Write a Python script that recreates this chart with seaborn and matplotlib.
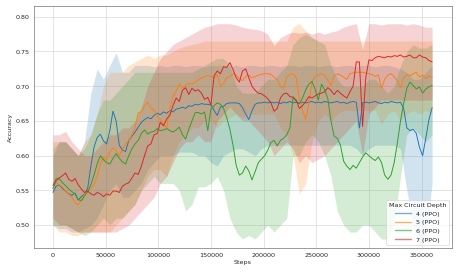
import numpy as np
import pandas as pd
import matplotlib
matplotlib.use("Agg")
import matplotlib.pyplot as plt
import seaborn as sns

sns.set_style("whitegrid", {"axes.edgecolor": "0.25"})

depths = ["4 (PPO)", "5 (PPO)", "6 (PPO)", "7 (PPO)"]
colors = ["#1f77b4", "#ff7f0e", "#2ca02c", "#d62728"]

# mean curves, one sample every 3000 steps
line_steps = np.arange(0, 360001, 3000)
band_steps = np.arange(0, 360001, 6000)

acc_4 = [0.547, 0.556, 0.558, 0.553, 0.549, 0.545, 0.543, 0.546, 0.536, 0.541,
         0.545, 0.553, 0.585, 0.612, 0.626, 0.631, 0.621, 0.617, 0.636, 0.664,
         0.650, 0.615, 0.608, 0.606, 0.622, 0.628, 0.634, 0.641, 0.648, 0.652,
         0.655, 0.653, 0.658, 0.661, 0.659, 0.663, 0.661, 0.665, 0.663, 0.667,
         0.668, 0.670, 0.668, 0.672, 0.671, 0.674, 0.673, 0.675, 0.674, 0.674,
         0.673, 0.665, 0.658, 0.670, 0.671, 0.675, 0.676, 0.676, 0.676, 0.675,
         0.669, 0.660, 0.652, 0.665, 0.674, 0.676, 0.676, 0.677, 0.676, 0.677,
         0.676, 0.677, 0.675, 0.677, 0.676, 0.678, 0.676, 0.677, 0.675, 0.677,
         0.676, 0.677, 0.678, 0.676, 0.677, 0.676, 0.678, 0.677, 0.676, 0.677,
         0.678, 0.676, 0.677, 0.675, 0.677, 0.678, 0.677, 0.640, 0.676, 0.677,
         0.676, 0.677, 0.678, 0.676, 0.675, 0.677, 0.676, 0.678, 0.677, 0.676,
         0.677, 0.668, 0.640, 0.636, 0.638, 0.632, 0.612, 0.600, 0.625, 0.652,
         0.669]
acc_5 = [0.553, 0.561, 0.558, 0.555, 0.549, 0.545, 0.540, 0.532, 0.529, 0.536,
         0.545, 0.550, 0.553, 0.558, 0.570, 0.588, 0.598, 0.593, 0.606, 0.611,
         0.607, 0.600, 0.610, 0.617, 0.622, 0.630, 0.640, 0.662, 0.663, 0.672,
         0.677, 0.668, 0.666, 0.656, 0.652, 0.645, 0.640, 0.668, 0.685, 0.693,
         0.703, 0.697, 0.702, 0.704, 0.703, 0.706, 0.709, 0.712, 0.714, 0.715,
         0.714, 0.712, 0.717, 0.700, 0.704, 0.712, 0.714, 0.718, 0.716, 0.711,
         0.708, 0.714, 0.716, 0.712, 0.714, 0.716, 0.717, 0.718, 0.718, 0.717,
         0.713, 0.709, 0.700, 0.697, 0.713, 0.717, 0.718, 0.712, 0.682, 0.665,
         0.652, 0.675, 0.707, 0.714, 0.716, 0.718, 0.716, 0.708, 0.701, 0.715,
         0.718, 0.716, 0.713, 0.710, 0.718, 0.719, 0.720, 0.720, 0.720, 0.719,
         0.718, 0.717, 0.714, 0.716, 0.697, 0.710, 0.716, 0.718, 0.714, 0.708,
         0.698, 0.712, 0.717, 0.715, 0.718, 0.720, 0.713, 0.716, 0.711, 0.715,
         0.713]
acc_6 = [0.553, 0.563, 0.567, 0.561, 0.557, 0.552, 0.548, 0.545, 0.537, 0.535,
         0.542, 0.548, 0.558, 0.572, 0.588, 0.600, 0.594, 0.590, 0.588, 0.596,
         0.603, 0.596, 0.591, 0.588, 0.600, 0.610, 0.617, 0.622, 0.632, 0.637,
         0.631, 0.634, 0.635, 0.639, 0.636, 0.637, 0.639, 0.636, 0.634, 0.637,
         0.641, 0.630, 0.624, 0.638, 0.650, 0.662, 0.662, 0.660, 0.663, 0.636,
         0.667, 0.672, 0.676, 0.674, 0.668, 0.655, 0.638, 0.615, 0.586, 0.572,
         0.575, 0.585, 0.578, 0.565, 0.577, 0.590, 0.595, 0.600, 0.608, 0.619,
         0.622, 0.614, 0.622, 0.625, 0.630, 0.640, 0.685, 0.678, 0.675, 0.683,
         0.695, 0.703, 0.707, 0.695, 0.680, 0.703, 0.695, 0.682, 0.650, 0.628,
         0.625, 0.615, 0.592, 0.585, 0.580, 0.586, 0.582, 0.590, 0.598, 0.604,
         0.600, 0.596, 0.593, 0.598, 0.590, 0.572, 0.566, 0.572, 0.590, 0.618,
         0.650, 0.675, 0.697, 0.706, 0.701, 0.696, 0.699, 0.690, 0.696, 0.699,
         0.701]
acc_7 = [0.557, 0.566, 0.568, 0.571, 0.575, 0.566, 0.563, 0.567, 0.558, 0.552,
         0.547, 0.549, 0.545, 0.543, 0.547, 0.545, 0.541, 0.545, 0.543, 0.549,
         0.549, 0.547, 0.556, 0.559, 0.561, 0.568, 0.575, 0.573, 0.585, 0.600,
         0.614, 0.617, 0.630, 0.632, 0.648, 0.643, 0.653, 0.658, 0.672, 0.683,
         0.678, 0.694, 0.698, 0.688, 0.697, 0.693, 0.695, 0.690, 0.681, 0.684,
         0.673, 0.715, 0.722, 0.718, 0.728, 0.727, 0.734, 0.724, 0.712, 0.706,
         0.722, 0.725, 0.712, 0.700, 0.694, 0.690, 0.689, 0.686, 0.682, 0.676,
         0.664, 0.668, 0.683, 0.689, 0.690, 0.685, 0.684, 0.680, 0.668, 0.672,
         0.678, 0.685, 0.683, 0.686, 0.689, 0.690, 0.692, 0.698, 0.694, 0.688,
         0.694, 0.690, 0.686, 0.683, 0.692, 0.700, 0.735, 0.735, 0.642, 0.712,
         0.738, 0.737, 0.741, 0.743, 0.742, 0.741, 0.743, 0.742, 0.744, 0.743,
         0.745, 0.742, 0.743, 0.745, 0.741, 0.741, 0.745, 0.742, 0.741, 0.737,
         0.735]

# spread across seeds, one sample every 6000 steps
hi_4 = [0.600, 0.620, 0.620, 0.610, 0.600, 0.620, 0.690, 0.725, 0.710, 0.730,
        0.748, 0.720, 0.720, 0.730, 0.730, 0.730, 0.728, 0.730, 0.728, 0.730,
        0.730, 0.728, 0.730, 0.730, 0.728, 0.730, 0.730, 0.730, 0.728, 0.730,
        0.728, 0.730, 0.730, 0.728, 0.730, 0.730, 0.728, 0.730, 0.730, 0.728,
        0.730, 0.730, 0.728, 0.730, 0.730, 0.728, 0.730, 0.730, 0.728, 0.730,
        0.730, 0.728, 0.730, 0.730, 0.728, 0.725, 0.720, 0.710, 0.710, 0.720,
        0.730]
lo_4 = [0.500, 0.495, 0.495, 0.490, 0.490, 0.495, 0.500, 0.510, 0.530, 0.550,
        0.560, 0.540, 0.540, 0.550, 0.560, 0.580, 0.590, 0.600, 0.600, 0.600,
        0.605, 0.605, 0.605, 0.600, 0.600, 0.590, 0.585, 0.600, 0.605, 0.610,
        0.610, 0.605, 0.600, 0.610, 0.615, 0.615, 0.615, 0.615, 0.615, 0.615,
        0.615, 0.615, 0.615, 0.615, 0.615, 0.615, 0.615, 0.615, 0.610, 0.600,
        0.610, 0.615, 0.615, 0.615, 0.615, 0.610, 0.550, 0.500, 0.470, 0.480,
        0.560]
hi_5 = [0.620, 0.620, 0.620, 0.610, 0.600, 0.620, 0.630, 0.660, 0.700, 0.720,
        0.720, 0.720, 0.730, 0.735, 0.740, 0.745, 0.740, 0.745, 0.745, 0.750,
        0.755, 0.758, 0.760, 0.762, 0.765, 0.765, 0.765, 0.765, 0.765, 0.765,
        0.765, 0.765, 0.765, 0.765, 0.765, 0.765, 0.765, 0.765, 0.785, 0.790,
        0.780, 0.770, 0.765, 0.765, 0.765, 0.765, 0.765, 0.765, 0.765, 0.765,
        0.765, 0.765, 0.765, 0.765, 0.765, 0.765, 0.765, 0.765, 0.765, 0.765,
        0.765]
lo_5 = [0.500, 0.490, 0.490, 0.485, 0.485, 0.490, 0.490, 0.490, 0.490, 0.490,
        0.500, 0.510, 0.520, 0.530, 0.550, 0.570, 0.580, 0.580, 0.570, 0.600,
        0.620, 0.630, 0.640, 0.640, 0.650, 0.650, 0.640, 0.650, 0.655, 0.660,
        0.655, 0.660, 0.660, 0.660, 0.660, 0.660, 0.640, 0.630, 0.600, 0.545,
        0.560, 0.620, 0.650, 0.660, 0.650, 0.660, 0.665, 0.665, 0.665, 0.665,
        0.665, 0.665, 0.645, 0.660, 0.665, 0.650, 0.660, 0.665, 0.660, 0.665,
        0.660]
hi_6 = [0.610, 0.620, 0.620, 0.610, 0.600, 0.610, 0.630, 0.660, 0.680, 0.680,
        0.690, 0.700, 0.710, 0.720, 0.720, 0.720, 0.720, 0.720, 0.720, 0.720,
        0.720, 0.720, 0.720, 0.725, 0.730, 0.735, 0.740, 0.740, 0.730, 0.700,
        0.690, 0.690, 0.690, 0.700, 0.710, 0.710, 0.720, 0.730, 0.760, 0.770,
        0.775, 0.770, 0.765, 0.760, 0.730, 0.710, 0.700, 0.700, 0.700, 0.700,
        0.710, 0.710, 0.700, 0.690, 0.700, 0.730, 0.750, 0.760, 0.755, 0.755,
        0.760]
lo_6 = [0.500, 0.500, 0.500, 0.495, 0.490, 0.485, 0.490, 0.500, 0.510, 0.500,
        0.510, 0.510, 0.520, 0.530, 0.550, 0.560, 0.570, 0.560, 0.560, 0.560,
        0.550, 0.520, 0.530, 0.555, 0.555, 0.560, 0.570, 0.550, 0.510, 0.490,
        0.480, 0.485, 0.480, 0.490, 0.500, 0.490, 0.500, 0.510, 0.600, 0.600,
        0.620, 0.630, 0.620, 0.600, 0.570, 0.520, 0.500, 0.490, 0.490, 0.500,
        0.500, 0.490, 0.480, 0.480, 0.500, 0.570, 0.630, 0.640, 0.630, 0.620,
        0.630]
hi_7 = [0.630, 0.630, 0.635, 0.620, 0.610, 0.600, 0.600, 0.610, 0.620, 0.630,
        0.630, 0.640, 0.640, 0.650, 0.670, 0.700, 0.720, 0.740, 0.750, 0.760,
        0.765, 0.770, 0.775, 0.780, 0.785, 0.787, 0.790, 0.790, 0.790, 0.788,
        0.785, 0.783, 0.782, 0.780, 0.775, 0.758, 0.770, 0.775, 0.778, 0.776,
        0.778, 0.775, 0.778, 0.775, 0.778, 0.780, 0.785, 0.788, 0.790, 0.753,
        0.790, 0.790, 0.788, 0.790, 0.790, 0.790, 0.788, 0.790, 0.788, 0.785,
        0.785]
lo_7 = [0.510, 0.500, 0.500, 0.495, 0.490, 0.490, 0.490, 0.490, 0.490, 0.490,
        0.490, 0.495, 0.500, 0.510, 0.520, 0.530, 0.540, 0.560, 0.570, 0.590,
        0.610, 0.620, 0.620, 0.630, 0.620, 0.620, 0.650, 0.660, 0.670, 0.660,
        0.650, 0.650, 0.640, 0.630, 0.620, 0.600, 0.610, 0.620, 0.610, 0.590,
        0.600, 0.590, 0.595, 0.600, 0.610, 0.620, 0.630, 0.640, 0.650, 0.600,
        0.660, 0.670, 0.680, 0.680, 0.680, 0.680, 0.680, 0.680, 0.680, 0.680,
        0.680]

means = [acc_4, acc_5, acc_6, acc_7]
lows = [lo_4, lo_5, lo_6, lo_7]
highs = [hi_4, hi_5, hi_6, hi_7]

rows = []
for name, vals in zip(depths, means):
    for s, v in zip(line_steps, vals):
        rows.append({"Steps": s, "Accuracy": v, "Max Circuit Depth": name})
df = pd.DataFrame(rows)

fig, ax = plt.subplots(figsize=(10, 6))
fig.subplots_adjust(left=0.074, right=0.985, bottom=0.098, top=0.978)

for c, lo, hi in zip(colors, lows, highs):
    ax.fill_between(band_steps, lo, hi, color=c, alpha=0.2, linewidth=0)

sns.lineplot(data=df, x="Steps", y="Accuracy", hue="Max Circuit Depth",
             palette=colors, errorbar=None, linewidth=1.5, ax=ax)

ax.set_xlim(-18000, 379000)
ax.set_ylim(0.467, 0.816)
ax.set_xticks([0, 50000, 100000, 150000, 200000, 250000, 300000, 350000])

sns.move_legend(ax, "lower right", title="Max Circuit Depth", handlelength=2.5)
for line in ax.get_legend().get_lines():
    line.set_alpha(0.6)
    line.set_linewidth(2.2)

plt.savefig("out.png", dpi=45.9)
plt.close()
